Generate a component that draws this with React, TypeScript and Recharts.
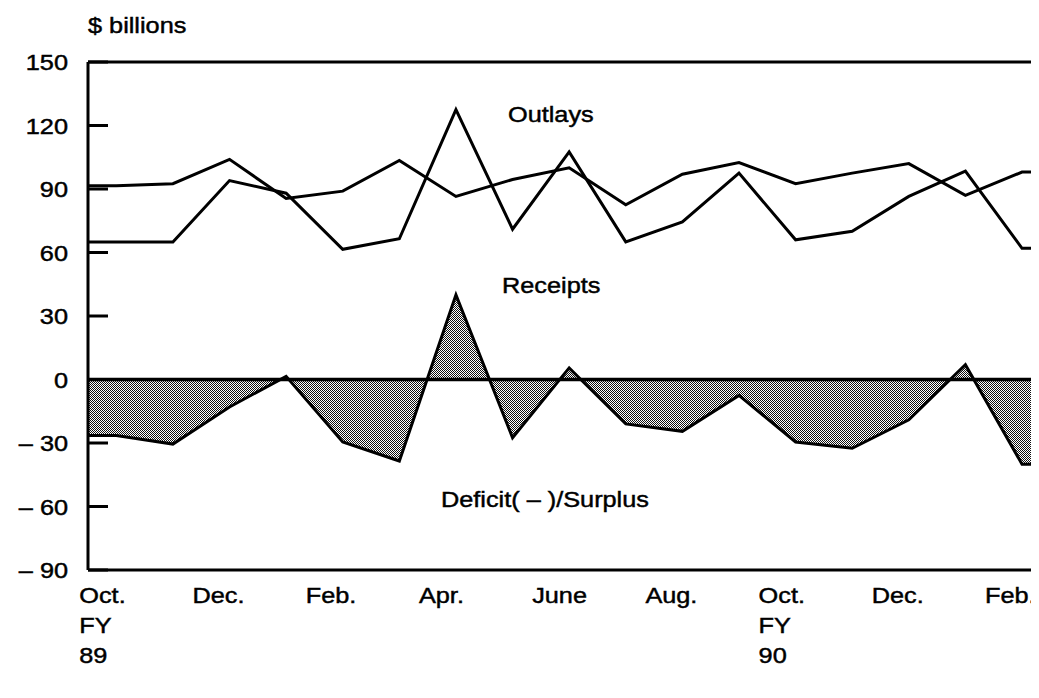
import { ComposedChart, Line, Area, XAxis, YAxis, ReferenceLine } from "recharts";

// Monthly federal budget, Oct. FY89 through Feb. FY90 ($ billions)
const months = [
  "Oct.", "Nov.", "Dec.", "Jan.", "Feb.", "Mar.", "Apr.", "May", "June",
  "July", "Aug.", "Sept.", "Oct.", "Nov.", "Dec.", "Jan.", "Feb.",
];
const fiscalYears: Record<number, string> = { 0: "89", 12: "90" };

const outlays = [91.5, 92.5, 104, 85.5, 89, 103.5, 86.5, 94.5, 100, 82.5, 97, 102.5, 92.5, 97.5, 102, 87, 98];
const receipts = [65, 65, 94, 88, 61.5, 66.5, 127.5, 71, 107.5, 65, 74.5, 97.5, 66, 70, 86.5, 98.5, 62];
const deficit = [-26.5, -30.5, -13, 1.5, -29.5, -38.5, 40, -27.5, 5.5, -21, -24.5, -7.5, -29.5, -32.5, -19, 7, -40];

const yTicks = [150, 120, 90, 60, 30, 0, -30, -60, -90];
const xTicks = [0, 2, 4, 6, 8, 10, 12, 14, 16];

const FONT = "'Liberation Sans', Arial, Helvetica, sans-serif";
const SX = 1.15; // the scanned lettering is wider than Arial

if (typeof document !== "undefined") {
  document.documentElement.style.overflow = "hidden";
}

const rows = months.map((m, i) => ({
  i,
  month: m,
  outlays: outlays[i],
  receipts: receipts[i],
  deficit: deficit[i],
}));
const last = rows.length - 1;
// the lines run on flat to the frame edges, half a month either side
const data = [{ ...rows[0], i: -0.5 }, ...rows, { ...rows[last], i: last + 0.5 }];

function Txt({ x, y, anchor = "start", children }: any) {
  return (
    <text
      x={0}
      y={0}
      transform={`translate(${x} ${y}) scale(${SX} 1)`}
      textAnchor={anchor}
      fontFamily={FONT}
      fontSize={22}
      fill="#000"
      stroke="#000"
      strokeWidth={0.45}
    >
      {children}
    </text>
  );
}

function MonthTick(props: any) {
  const { x, y, payload } = props;
  const i = payload.value;
  const lines = [months[i]];
  if (fiscalYears[i]) lines.push("FY", fiscalYears[i]);
  return (
    <g>
      {lines.map((t, k) => (
        <Txt key={k} x={x - 37} y={y + 33 + k * 30}>
          {t}
        </Txt>
      ))}
    </g>
  );
}

function ValueTick(props: any) {
  const { x, y, payload } = props;
  const v = payload.value;
  const label = v < 0 ? `\u2013 ${-v}` : `${v}`;
  return (
    <g>
      <line x1={x} x2={x + 20} y1={y} y2={y} stroke="#000" strokeWidth={3} />
      <Txt x={x - 20} y={y + 8} anchor="end">
        {label}
      </Txt>
    </g>
  );
}

export default function App() {
  return (
    <div style={{ position: "relative", width: 1031, height: 674, overflow: "hidden", background: "#fff" }}>
      <ComposedChart
        width={1031}
        height={674}
        data={data}
        margin={{ top: 54, right: 0, bottom: 0, left: 0 }}
      >
        <defs>
          <pattern id="halftone" width="2" height="2" patternUnits="userSpaceOnUse">
            <rect width="2" height="2" fill="#fff" />
            <rect width="1" height="1" fill="#111" />
            <rect x="1" y="1" width="1" height="1" fill="#111" />
          </pattern>
        </defs>
        {/* the scan cuts the frame off just past Feb. FY90 */}
        <XAxis
          type="number"
          dataKey="i"
          domain={[-0.5, 16.3]}
          ticks={xTicks}
          interval={0}
          allowDataOverflow
          height={112}
          tickSize={0}
          tickMargin={0}
          tickLine={false}
          axisLine={{ stroke: "#000", strokeWidth: 3 }}
          tick={(p: any) => <MonthTick {...p} />}
        />
        <YAxis
          type="number"
          domain={[-90, 150]}
          ticks={yTicks}
          interval={0}
          allowDataOverflow
          width={80}
          tickSize={0}
          tickMargin={0}
          tickLine={false}
          axisLine={{ stroke: "#000", strokeWidth: 3 }}
          tick={(p: any) => <ValueTick {...p} />}
        />
        <Area
          type="linear"
          dataKey="deficit"
          baseValue={0}
          stroke="#000"
          strokeWidth={3}
          fill="url(#halftone)"
          fillOpacity={1}
          isAnimationActive={false}
        />
        <ReferenceLine y={0} stroke="#000" strokeWidth={3.5} />
        <ReferenceLine y={150} stroke="#000" strokeWidth={3} />
        <Line
          type="linear"
          dataKey="receipts"
          stroke="#000"
          strokeWidth={3}
          dot={false}
          isAnimationActive={false}
        />
        <Line
          type="linear"
          dataKey="outlays"
          stroke="#000"
          strokeWidth={3}
          dot={false}
          isAnimationActive={false}
        />
      </ComposedChart>
      <svg
        width={1031}
        height={674}
        style={{ position: "absolute", left: 0, top: 0, pointerEvents: "none" }}
      >
        <Txt x={80} y={25}>$ billions</Txt>
        <Txt x={500} y={114}>Outlays</Txt>
        <Txt x={494} y={285}>Receipts</Txt>
        <Txt x={433} y={499}>Deficit( {"\u2013"} )/Surplus</Txt>
      </svg>
    </div>
  );
}
